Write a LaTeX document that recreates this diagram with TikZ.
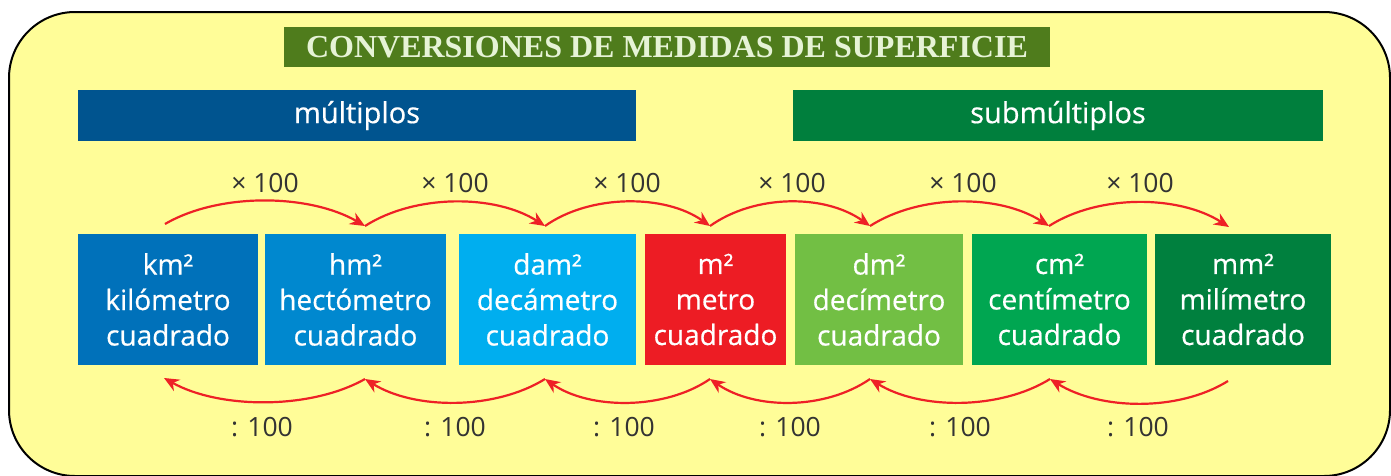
\documentclass[tikz,border=0pt]{standalone}
\usepackage{fontspec}
\setmainfont{Open Sans}
\newfontfamily\boxfont[FakeBold=0.5]{Open Sans}
\newfontfamily\titlefont{Liberation Serif}
\usetikzlibrary{arrows.meta}
\definecolor{bg}{HTML}{FFFD98}
\definecolor{titlegreen}{HTML}{4F7C1C}
\definecolor{titletext}{HTML}{E6F3D6}
\definecolor{multblue}{HTML}{00548F}
\definecolor{submgreen}{HTML}{007F3D}
\definecolor{ckm}{HTML}{0071BA}
\definecolor{chm}{HTML}{0088CF}
\definecolor{cdam}{HTML}{00AEEF}
\definecolor{cm}{HTML}{ED1C24}
\definecolor{cdm}{HTML}{72BF44}
\definecolor{ccm}{HTML}{00A651}
\definecolor{cmm}{HTML}{00803E}
\definecolor{arrred}{HTML}{EE2026}
\definecolor{labgray}{HTML}{333333}
\begin{document}
\begin{tikzpicture}[x=1pt,y=-1pt,
  unitbox/.style={minimum height=131pt, inner sep=0pt, text=white, align=center,
    font=\boxfont\fontsize{28}{35.5}\selectfont},
  banner/.style={minimum height=51pt, inner sep=0pt, text=white,
    font=\boxfont\fontsize{29}{32}\selectfont},
  conv/.style={draw=arrred, line width=2.2pt, -{Stealth[length=15pt,width=13pt]}},
  lab/.style={text=labgray, inner sep=0pt, font=\fontsize{26.5}{30}\selectfont}]
\useasboundingbox (0,0) rectangle (1391,475);
\fill[white] (0,0) rectangle (1391,475);
\draw[fill=bg, line width=2pt, rounded corners=66pt] (9,12) rectangle (1390,476);

% title
\node[fill=titlegreen, minimum width=766pt, minimum height=40pt, inner sep=0pt,
  text=titletext, font=\titlefont\bfseries\fontsize{32}{34}\selectfont] (title) at (667,47)
  {CONVERSIONES DE MEDIDAS DE SUPERFICIE};

% banners
\node[banner, fill=multblue, minimum width=558pt] (mult) at (357,115.5) {múltiplos};
\node[banner, fill=submgreen, minimum width=530pt] (subm) at (1058,115.5) {submúltiplos};

% unit boxes
\node[unitbox, fill=ckm, minimum width=180pt] (km) at (168,299.5) {km²\\kilómetro\\cuadrado};
\node[unitbox, fill=chm, minimum width=181pt] (hm) at (355.5,299.5) {hm²\\hectómetro\\cuadrado};
\node[unitbox, fill=cdam, minimum width=177pt] (dam) at (547.5,299.5) {dam²\\decámetro\\cuadrado};
\node[unitbox, fill=cm, minimum width=141pt] (m) at (715.5,299.5) {m²\\metro\\cuadrado};
\node[unitbox, fill=cdm, minimum width=168pt] (dm) at (879,299.5) {dm²\\decímetro\\cuadrado};
\node[unitbox, fill=ccm, minimum width=175pt] (cm) at (1059.5,299.5) {cm²\\centímetro\\cuadrado};
\node[unitbox, fill=cmm, minimum width=176pt] (mm) at (1243,299.5) {mm²\\milímetro\\cuadrado};

% arrow end points
\coordinate (t1) at (165,224);
\coordinate (t2) at (365,226);
\coordinate (t3) at (545,226);
\coordinate (t4) at (710,226);
\coordinate (t5) at (870,226);
\coordinate (t6) at (1049,226);
\coordinate (t7) at (1229,227);
\coordinate (b1) at (164,378);
\coordinate (b2) at (365,379);
\coordinate (b3) at (545,379);
\coordinate (b4) at (710,379);
\coordinate (b5) at (870,379);
\coordinate (b6) at (1050,379);
\coordinate (b7) at (1228,381);

% multiply arrows
\draw[conv] (t1) .. controls +(55,-32) and +(-55,-32) .. (t2);
\draw[conv] (t2) .. controls +(50,-32) and +(-50,-32) .. (t3);
\draw[conv] (t3) .. controls +(45,-32) and +(-45,-32) .. (t4);
\draw[conv] (t4) .. controls +(45,-32) and +(-45,-32) .. (t5);
\draw[conv] (t5) .. controls +(50,-32) and +(-50,-32) .. (t6);
\draw[conv] (t6) .. controls +(50,-32) and +(-50,-32) .. (t7);

% divide arrows
\draw[conv] (b2) .. controls +(-55,31) and +(55,31) .. (b1);
\draw[conv] (b3) .. controls +(-50,31) and +(50,31) .. (b2);
\draw[conv] (b4) .. controls +(-45,31) and +(45,31) .. (b3);
\draw[conv] (b5) .. controls +(-45,31) and +(45,31) .. (b4);
\draw[conv] (b6) .. controls +(-50,31) and +(50,31) .. (b5);
\draw[conv] (b7) .. controls +(-50,31) and +(50,31) .. (b6);

% labels
\node[lab] (x1) at (265,183) {× 100};
\node[lab] (x2) at (455,183) {× 100};
\node[lab] (x3) at (627,183) {× 100};
\node[lab] (x4) at (792,183) {× 100};
\node[lab] (x5) at (963,183) {× 100};
\node[lab] (x6) at (1140,183) {× 100};
\node[lab] (d1) at (262,427) {: 100};
\node[lab] (d2) at (455,427) {: 100};
\node[lab] (d3) at (624,427) {: 100};
\node[lab] (d4) at (790,427) {: 100};
\node[lab] (d5) at (960,427) {: 100};
\node[lab] (d6) at (1138,427) {: 100};
\end{tikzpicture}
\end{document}
